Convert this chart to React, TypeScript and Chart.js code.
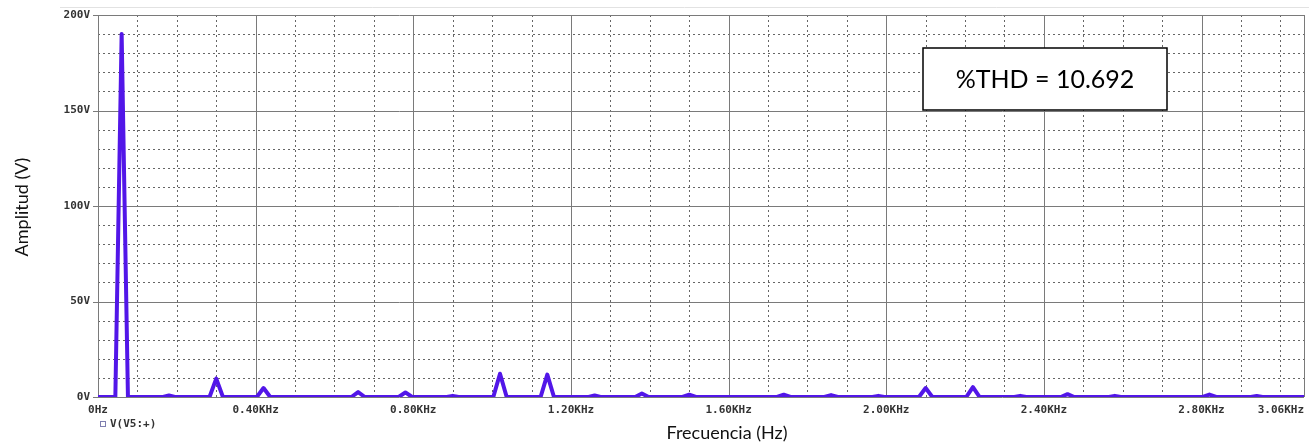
import { useEffect, useRef } from "react";
import { Chart, registerables } from "chart.js";

Chart.register(...registerables);

// Spectrum points: frequency (kHz) and amplitude (V)
const freqKHz = [
  0, 0.044, 0.06, 0.076,
  0.165, 0.18, 0.195,
  0.283, 0.3, 0.317,
  0.403, 0.42, 0.437,
  0.643, 0.66, 0.677,
  0.763, 0.78, 0.797,
  0.885, 0.9, 0.915,
  1.003, 1.02, 1.037,
  1.123, 1.14, 1.157,
  1.245, 1.26, 1.275,
  1.363, 1.38, 1.397,
  1.483, 1.5, 1.517,
  1.723, 1.74, 1.757,
  1.843, 1.86, 1.877,
  1.965, 1.98, 1.995,
  2.083, 2.1, 2.117,
  2.203, 2.22, 2.237,
  2.325, 2.34, 2.355,
  2.443, 2.46, 2.477,
  2.565, 2.58, 2.595,
  2.803, 2.82, 2.837,
  2.925, 2.94, 2.955,
  3.06,
];
const ampV = [
  0, 0, 190, 0,
  0, 0.8, 0,
  0, 9.6, 0,
  0, 4.7, 0,
  0, 2.6, 0,
  0, 2.4, 0,
  0, 0.6, 0,
  0, 12.2, 0,
  0, 11.7, 0,
  0, 0.8, 0,
  0, 1.8, 0,
  0, 1.2, 0,
  0, 1.2, 0,
  0, 1.0, 0,
  0, 0.6, 0,
  0, 4.7, 0,
  0, 5.2, 0,
  0, 0.6, 0,
  0, 1.5, 0,
  0, 0.6, 0,
  0, 1.3, 0,
  0, 0.5, 0,
  0,
];

const xTickValues = [0, 0.4, 0.8, 1.2, 1.6, 2.0, 2.4, 2.8, 3.06];
const xTickLabels = ["0Hz", "0.40KHz", "0.80KHz", "1.20KHz", "1.60KHz", "2.00KHz", "2.40KHz", "2.80KHz", "3.06KHz"];
const yTickValues = [0, 50, 100, 150, 200];
const yTickLabels = ["0V", "50V", "100V", "150V", "200V"];
const xMinorStepKHz = 0.1;
const yMinorStepV = 10;

const seriesName = "V(V5:+)";
const thdText = "%THD = 10.692";
const xTitle = "Frecuencia (Hz)";
const yTitle = "Amplitud (V)";

const LINE_COLOR = "rgb(82, 22, 232)";
const TICK_FONT = { family: "DejaVu Sans Mono", size: 11, weight: "bold" as const };
const TITLE_FONT = "18px Lato";

const pspicePlugin = {
  id: "pspiceDecor",
  beforeDatasetsDraw(chart: any) {
    const { ctx, chartArea, scales } = chart;
    const { left, right, top, bottom } = chartArea;
    const x = scales.x;
    const y = scales.y;
    const line = (x1: number, y1: number, x2: number, y2: number) => {
      ctx.beginPath();
      ctx.moveTo(x1, y1);
      ctx.lineTo(x2, y2);
      ctx.stroke();
    };
    ctx.save();
    // faint outer frame line
    ctx.strokeStyle = "#e2e2e2";
    ctx.lineWidth = 1;
    line(60, 7.5, chart.width, 7.5);

    // minor dashed grid
    ctx.strokeStyle = "#666";
    ctx.lineWidth = 1;
    ctx.setLineDash([2, 3]);
    const xMax = x.max;
    for (let i = 1; i * xMinorStepKHz < xMax - 0.001; i++) {
      if (i % 4 === 0) continue;
      const px = Math.round(x.getPixelForValue(i * xMinorStepKHz)) + 0.5;
      line(px, top, px, bottom);
    }
    for (let i = 1; i * yMinorStepV < y.max; i++) {
      if ((i * yMinorStepV) % 50 === 0) continue;
      const py = Math.round(y.getPixelForValue(i * yMinorStepV)) + 0.5;
      line(left, py, right, py);
    }
    // major solid grid
    ctx.setLineDash([]);
    ctx.strokeStyle = "#7a7a7a";
    xTickValues.forEach((v) => {
      const px = Math.round(x.getPixelForValue(v)) + 0.5;
      line(px, top, px, bottom);
    });
    yTickValues.forEach((v) => {
      const py = Math.round(y.getPixelForValue(v)) + 0.5;
      line(left, py, right, py);
      // tick marks
      line(left - 5, py, left, py);
    });
    ctx.restore();
  },
  afterDraw(chart: any) {
    const { ctx } = chart;
    ctx.save();
    // legend entry
    ctx.strokeStyle = "#7f7fb0";
    ctx.lineWidth = 1;
    ctx.strokeRect(100.5, 421.5, 5, 5);
    ctx.fillStyle = "#333";
    ctx.font = "bold 11px 'DejaVu Sans Mono'";
    ctx.textAlign = "left";
    ctx.textBaseline = "middle";
    ctx.fillText(seriesName, 110, 424.5);

    // axis titles
    ctx.fillStyle = "#111";
    ctx.font = TITLE_FONT;
    ctx.textAlign = "center";
    ctx.fillText(xTitle, 727, 433);
    ctx.save();
    ctx.translate(22, 207);
    ctx.rotate(-Math.PI / 2);
    ctx.fillText(yTitle, 0, 0);
    ctx.restore();

    // THD box
    ctx.fillStyle = "#fff";
    ctx.fillRect(923, 48, 244, 62);
    ctx.strokeStyle = "#000";
    ctx.lineWidth = 1.5;
    ctx.strokeRect(923, 48, 244, 62);
    ctx.fillStyle = "#000";
    ctx.font = "25px Lato";
    ctx.textAlign = "center";
    ctx.textBaseline = "middle";
    ctx.fillText(thdText, 1045, 80);
    ctx.restore();
  },
};

export default function App() {
  const canvasRef = useRef<HTMLCanvasElement | null>(null);

  useEffect(() => {
    if (!canvasRef.current) return;
    const points = freqKHz.map((f, i) => ({ x: f, y: ampV[i] }));
    const chart = new Chart(canvasRef.current, {
      type: "line",
      data: {
        datasets: [
          {
            label: seriesName,
            data: points,
            borderColor: LINE_COLOR,
            backgroundColor: LINE_COLOR,
            borderWidth: 4,
            pointRadius: 0,
            tension: 0,
            fill: false,
            borderJoinStyle: "round",
          },
        ],
      },
      options: {
        responsive: false,
        animation: false,
        devicePixelRatio: 1,
        layout: { padding: { top: 15, right: 5, left: 0, bottom: 0 } },
        plugins: {
          legend: { display: false },
          tooltip: { enabled: false },
          title: { display: false },
        },
        scales: {
          x: {
            type: "linear",
            min: 0,
            max: 3.06,
            grid: { display: false, drawTicks: false },
            border: { display: false },
            afterBuildTicks: (s: any) => {
              s.ticks = xTickValues.map((v) => ({ value: v }));
            },
            afterFit: (s: any) => {
              s.height = 47;
              s.paddingLeft = 0;
              s.paddingRight = 0;
            },
            ticks: {
              autoSkip: false,
              maxRotation: 0,
              minRotation: 0,
              padding: 7,
              color: "#333",
              font: TICK_FONT,
              callback: (_v: any, i: number) =>
                i === xTickLabels.length - 1
                  ? xTickLabels[i] + "\u2007".repeat(xTickLabels[i].length)
                  : xTickLabels[i],
            },
          },
          y: {
            type: "linear",
            min: 0,
            max: 200,
            grid: { display: false, drawTicks: false },
            border: { display: false },
            afterBuildTicks: (s: any) => {
              s.ticks = yTickValues.map((v) => ({ value: v }));
            },
            afterFit: (s: any) => {
              s.width = 98;
              s.paddingTop = 0;
              s.paddingBottom = 0;
            },
            ticks: {
              autoSkip: false,
              padding: 8,
              color: "#333",
              font: TICK_FONT,
              callback: (_v: any, i: number) => yTickLabels[i],
            },
          },
        },
      },
      plugins: [pspicePlugin],
    });
    return () => chart.destroy();
  }, []);

  return (
    <div style={{ position: "absolute", left: 0, top: 0, width: 1309, height: 444, background: "#fff" }}>
      <canvas ref={canvasRef} width={1309} height={444} style={{ display: "block" }} />
    </div>
  );
}
